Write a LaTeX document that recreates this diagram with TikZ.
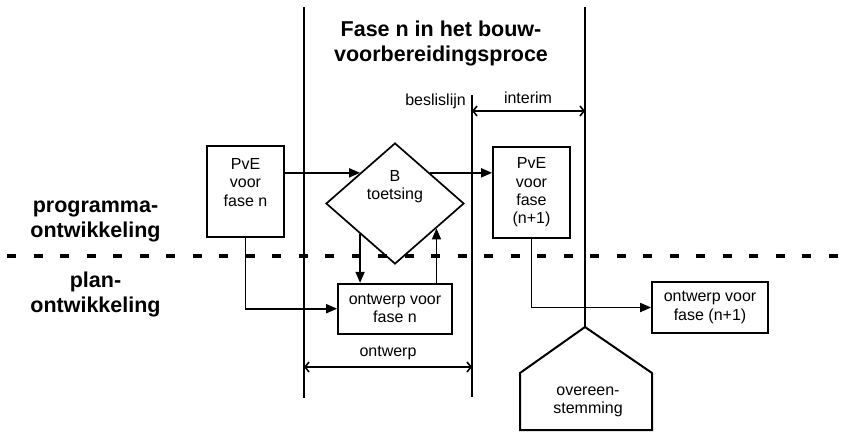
\documentclass[tikz,border=0pt]{standalone}
\usepackage{fontspec}
\setmainfont{Liberation Sans}
\usetikzlibrary{shapes.geometric,arrows.meta,positioning}

\begin{document}
\begin{tikzpicture}[
    x=1pt, y=-1pt,
    blok/.style={rectangle, draw, line width=1.7pt, inner sep=0pt, align=center, font=\fontsize{16}{18.4}\selectfont},
    toetsvorm/.style={diamond, draw, line width=1.7pt, inner sep=0pt, minimum width=138pt, minimum height=121pt},
    tekst/.style={align=center, inner sep=0pt, font=\fontsize{16}{18.4}\selectfont},
    kop/.style={align=center, inner sep=0pt, font=\fontsize{21.5}{24.5}\selectfont\bfseries},
    lijn/.style={line width=2pt},
    arr/.style={-{Triangle[length=11pt,width=9pt]}, line width=1.7pt},
    maat/.style={{Straight Barb[length=4pt,width=10pt]}-{Straight Barb[length=4pt,width=10pt]}, line width=1.6pt},
    scheiding/.style={line width=4pt, dash pattern=on 9pt off 17.5pt, dash phase=19.5pt},
    node distance=18pt
]
    \useasboundingbox (0,0) rectangle (853,431);

    % kop boven de fase
    \node[kop] (fase) at (441,43.6) {Fase n in het bouw-\\voorbereidingsproce};

    % programma- en planontwikkeling, met scheidingslijn
    \node[kop] (programma) at (95.5,221.5) {programma-\\ontwikkeling};
    \node[kop] (plan)      at (95.5,294.4) {plan-\\ontwikkeling};
    \draw[scheiding] (0,255.5) -- (853,255.5);

    % faselijnen
    \coordinate (startA) at (304,7);
    \coordinate (eindA)  at (304,398);
    \coordinate (startB) at (472,95);
    \coordinate (eindB)  at (472,397);
    \coordinate (startC) at (585,7);
    \coordinate (nok)    at (585,327);
    \draw[lijn] (startA) -- (eindA);
    \draw[lijn] (startB) -- (eindB);
    \draw[lijn] (startC) -- (nok);

    % overeenstemming (huisvorm onder de lijn)
    \draw[lijn] (nok) -- (652,373) -- (652,430) -- (520,430) -- (520,373) -- cycle;
    \node[tekst] (overleg) at (588,401.6) {overeen-\\stemming};

    % blokken
    \node[blok, minimum width=77pt, minimum height=91pt]  (pvenu)   at (245.5,191.5) {PvE\\voor\\fase n\\\mbox{}};
    \node[toetsvorm]                                      (toets)   at (395,203.5) {};
    \node[tekst]                                          (toetstekst) at ([yshift=16.7pt]toets.center) {B\\toetsing};
    \node[blok, minimum width=77pt, minimum height=91pt]  (pvevolg) at (531.5,192.5) {PvE\\voor\\fase\\(n+1)};
    \node[blok, minimum width=114pt, minimum height=50pt, below=of toets] (ontwnu) {ontwerp voor\\fase n};
    \node[blok, minimum width=116pt, minimum height=51pt] (ontwvolg) at (710,307.5) {ontwerp voor\\fase (n+1)};

    % labels en maatpijlen
    \node[tekst, anchor=base east] (beslis)  at (466,105)   {beslislijn};
    \node[tekst, anchor=base]      (interim) at (528,103.3) {interim};
    \node[tekst, anchor=base]      (ontwerp) at (388,356.7) {ontwerp};
    \coordinate (maatB) at (472,111);
    \coordinate (maatC) at (585,111);
    \coordinate (maatA) at (304,367);
    \coordinate (maatD) at (472,367);
    \draw[maat] (maatB) -- (maatC);
    \draw[maat] (maatA) -- (maatD);

    % pijlen
    \draw[arr] (pvenu.east |- toets.north west) -- (toets.north west);
    \draw[arr] (toets.north east) -- (pvevolg.west |- toets.north east);
    \draw[arr] (toets.south west) -- (toets.south west |- ontwnu.north);
    \draw[arr] (toets.-31 |- ontwnu.north) -- (toets.-31);
    \draw[arr] (pvenu.south) |- (ontwnu.west);
    \draw[arr] (pvevolg.south) |- (ontwvolg.west);

\end{tikzpicture}
\end{document}
